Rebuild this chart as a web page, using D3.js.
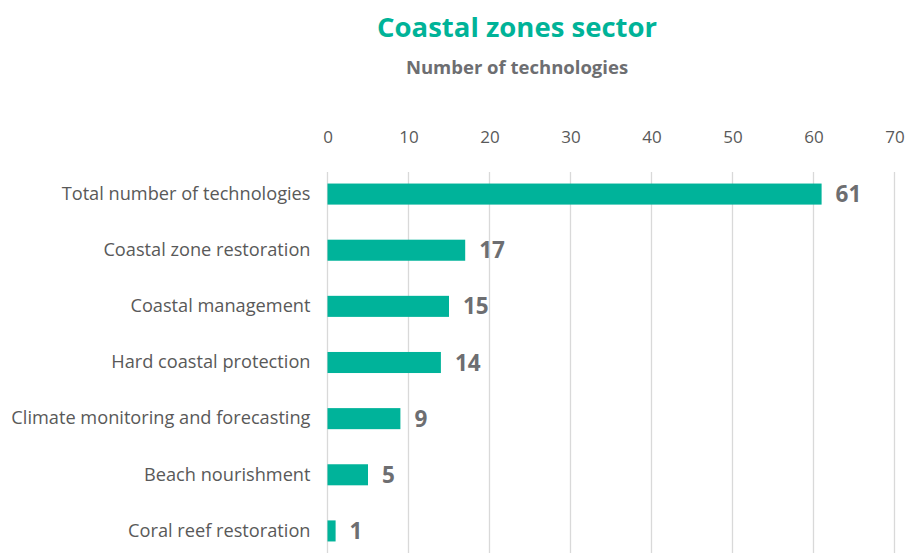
<!DOCTYPE html>
<html><head><meta charset="utf-8">
<script src="https://cdn.jsdelivr.net/npm/d3@7"></script>
<style>body{margin:0;background:#fff}svg{display:block}</style>
</head><body>
<svg id="c" width="906" height="553"></svg>
<script>
const categories = ["Total number of technologies","Coastal zone restoration","Coastal management","Hard coastal protection","Climate monitoring and forecasting","Beach nourishment","Coral reef restoration"];
const values = [61,17,15,14,9,5,1];
const tickValues = [0,10,20,30,40,50,60,70];
const title = "Coastal zones sector";
const subtitle = "Number of technologies";

const svg = d3.select("#c");
const font = "'Open Sans', sans-serif";
const x = d3.scaleLinear().domain([0,70]).range([327.5, 894.5]);
const y = d3.scaleBand().domain(categories).range([166, 559]).paddingInner(0.625).paddingOuter(0.3125);

svg.append("text").attr("x",517).attr("y",37).attr("text-anchor","middle")
  .attr("font-family",font).attr("font-weight",700).attr("font-size",27.5).attr("fill","#00B398").text(title);
svg.append("text").attr("x",517).attr("y",74).attr("text-anchor","middle")
  .attr("font-family",font).attr("font-weight",700).attr("font-size",18.5).attr("fill","#6d6e71").text(subtitle);

// gridlines
svg.append("g").selectAll("line").data(tickValues).join("line")
  .attr("x1",d=>x(d)).attr("x2",d=>x(d)).attr("y1",172).attr("y2",553)
  .attr("stroke","#d9d9d9").attr("stroke-width",1.3);

const axis = d3.axisTop(x).tickValues(tickValues).tickSize(0).tickPadding(0);
const ag = svg.append("g").attr("transform","translate(0,143)").call(axis);
ag.select(".domain").remove();
ag.selectAll("text").attr("font-family",font).attr("font-size",17).attr("fill","#595959");

const yAxis = d3.axisLeft(y).tickSize(0).tickPadding(17);
const yg = svg.append("g").attr("transform",`translate(${x(0)},0)`).call(yAxis);
yg.select(".domain").remove();
yg.selectAll("text").attr("font-family",font).attr("font-size",18.2).attr("fill","#595959");

svg.append("g").selectAll("rect").data(values).join("rect")
  .attr("x",x(0)).attr("y",(d,i)=>y(categories[i]))
  .attr("width",d=>x(d)-x(0)).attr("height",y.bandwidth()).attr("fill","#00B39A");

svg.append("g").selectAll("text").data(values).join("text")
  .attr("x",d=>x(d)+14).attr("y",(d,i)=>y(categories[i])+y.bandwidth()/2)
  .attr("dy","0.36em").attr("font-family",font).attr("font-weight",700).attr("font-size",22.5)
  .attr("fill","#6d6e71").text(d=>d);
</script>
</body></html>
